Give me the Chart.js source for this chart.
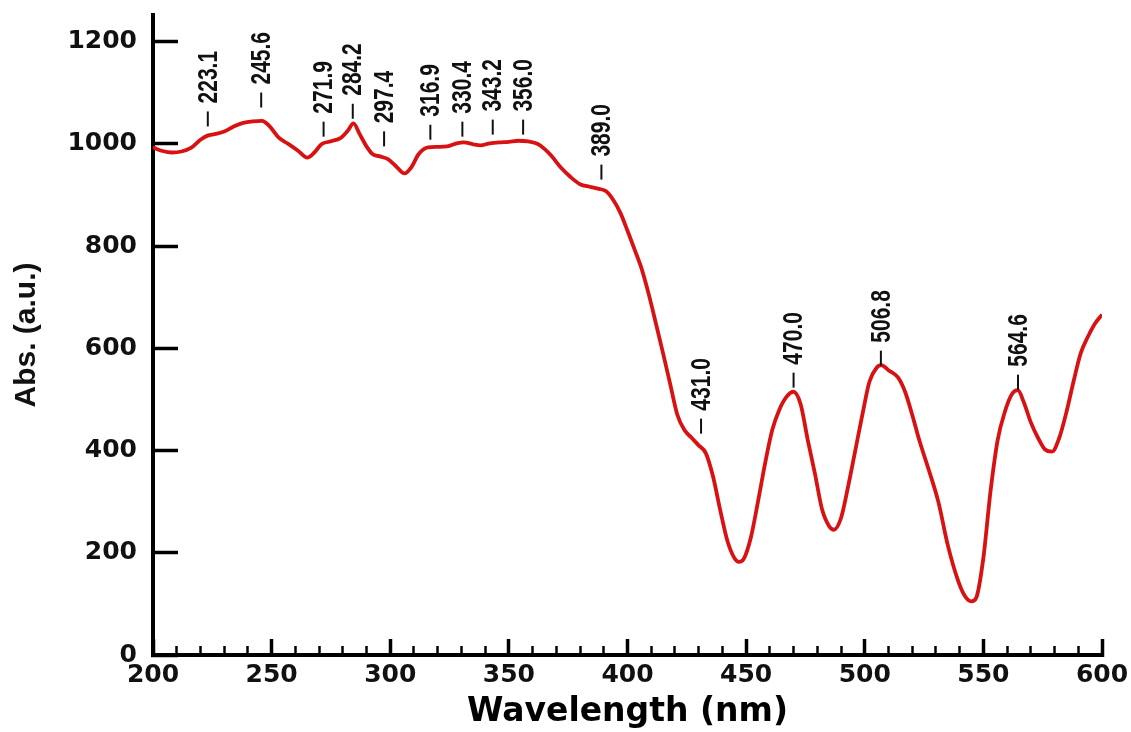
<!DOCTYPE html>
<html><head><meta charset="utf-8">
<script src="https://cdn.jsdelivr.net/npm/chart.js@4.4.1/dist/chart.umd.min.js"></script>
<style>html,body{margin:0;padding:0;background:#fff;}#wrap{width:1131px;height:732px;position:relative;}</style>
</head><body><div id="wrap"><canvas id="c"></canvas></div>
<script>
const wavelengths = [200,204,208,212,216,220,223,226,230,234,238,242,246,249,253,257,261,265,268,271,275,279,282,284.5,287,290,292.5,296,299,302,306,309,312,316,320,324,328,331,335,338,342,346,350,354,358,362,365,368,372,376,380,384,388,391,394,397,400,403,406,409,412,415,418,421,424,427,430,433,436,439,442,445,447,449,452,455,458,461,464,467,470,473,476,479,482,485,487,490,493,496,499,502,505,507,510,514,517,520,523,527,531,535,539,542,545,547,550,553,556,559,562,564.5,567,570,573,576,579,582,585,588,591,594,597,600];
const absorbance = [993,986,983,985,992,1008,1016,1019,1024,1034,1041,1044,1045,1035,1012,1000,987,973,983,999,1005,1011,1025,1040,1020,995,980,975,970,958,942,955,980,993,994,995,1001,1003,999,997,1001,1003,1004,1006,1005,1000,990,976,953,935,921,916,912,907,890,865,830,793,755,705,648,590,530,470,440,425,410,395,350,285,225,190,182,188,230,300,375,440,480,505,515,490,420,355,285,252,245,268,330,400,470,535,562,567,557,543,515,470,420,362,300,215,150,117,105,112,190,320,420,475,510,518,495,455,425,402,398,425,475,535,590,622,648,666];

const peakWavelengths = [223.1,245.6,271.9,284.2,297.4,316.9,330.4,343.2,356.0,389.0,431.0,470.0,506.8,564.6];
const peakLabels = ['223.1','245.6','271.9','284.2','297.4','316.9','330.4','343.2','356.0','389.0','431.0','470.0','506.8','564.6'];
const peakMarkerLevels = [1034,1071,1014,1049,995,1008,1014,1018,1018,930,433,523,566,519];

const xMajorTicks = [200,250,300,350,400,450,500,550,600];
const xTickLabels = ['200','250','300','350','400','450','500','550','600'];
const yMajorTicks = [0,200,400,600,800,1000,1200];
const yTickLabels = ['0','200','400','600','800','1000','1200'];

const points = wavelengths.map((w, i) => ({x: w, y: absorbance[i]}));

const peakPlugin = {
  id: 'peakMarks',
  afterDatasetsDraw(chart) {
    const {ctx, scales: {x, y}} = chart;
    ctx.save();
    peakWavelengths.forEach((wl, i) => {
      const px = x.getPixelForValue(wl);
      const py = y.getPixelForValue(peakMarkerLevels[i]);
      ctx.strokeStyle = '#111';
      ctx.lineWidth = 2;
      ctx.beginPath(); ctx.moveTo(px, py); ctx.lineTo(px, py - 15); ctx.stroke();
      ctx.save();
      ctx.translate(px, py - 15 - 8);
      ctx.rotate(-Math.PI / 2);
      ctx.scale(0.75, 1);
      ctx.font = 'bold 28px "Liberation Sans", Arial, sans-serif';
      ctx.fillStyle = '#111';
      ctx.textAlign = 'left';
      ctx.textBaseline = 'middle';
      ctx.fillText(peakLabels[i], 0, 1);
      ctx.restore();
    });
    ctx.restore();
  }
};

new Chart(document.getElementById('c'), {
  type: 'line',
  data: { datasets: [{
    data: points, xAxisID: 'x', yAxisID: 'y',
    borderColor: '#d81212', borderWidth: 3.8, pointRadius: 0,
    cubicInterpolationMode: 'monotone', fill: false
  }]},
  options: {
    responsive: true, maintainAspectRatio: false, devicePixelRatio: 1, animation: false,
    layout: { padding: { top: 15, right: 29, left: 0, bottom: 0 } },
    plugins: { legend: { display: false }, tooltip: { enabled: false } },
    scales: {
      x: {
        type: 'linear', position: 'bottom', min: 200, max: 600, weight: 0,
        afterBuildTicks: s => { s.ticks = xMajorTicks.map(v => ({value: v})); },
        ticks: { callback: (v, i) => xTickLabels[i], font: {family: 'DejaVu Sans', weight: 'bold', size: 25}, color: '#111', padding: 21, maxRotation: 0, autoSkip: false },
        grid: { drawOnChartArea: false, drawTicks: true, tickLength: -16, tickWidth: 3.5, tickColor: '#000' },
        border: { display: true, color: '#000', width: 4 },
        title: { display: true, text: 'Wavelength (nm)', font: {family: 'DejaVu Sans', weight: 'bold', size: 33}, color: '#000', padding: {top: 0, bottom: 0} },
        afterFit: s => { s.height = 77; s.paddingLeft = 0; s.paddingRight = 0; }
      },
      x2: {
        type: 'linear', position: 'bottom', min: 200, max: 600, weight: -1,
        ticks: { display: false, stepSize: 10 },
        grid: { drawOnChartArea: false, drawTicks: true, tickLength: -9, tickWidth: 2.5, tickColor: '#000' },
        border: { display: false },
        afterFit: s => { s.height = 0; s.paddingLeft = 0; s.paddingRight = 0; }
      },
      y: {
        type: 'linear', position: 'left', min: 0, max: 1252, weight: 0,
        afterBuildTicks: s => { s.ticks = yMajorTicks.map(v => ({value: v})); },
        ticks: { callback: (v, i) => yTickLabels[i], font: {family: 'DejaVu Sans', weight: 'bold', size: 25}, color: '#111', padding: 41, autoSkip: false },
        grid: { drawOnChartArea: false, drawTicks: true, tickLength: -25, tickWidth: 3.5, tickColor: '#000' },
        border: { display: true, color: '#000', width: 4 },
        title: { display: true, text: 'Abs. (a.u.)', font: {family: 'Liberation Sans', weight: 'bold', size: 30}, color: '#111', padding: {top: 9, bottom: 0} },
        afterFit: s => { s.width = 153; s.paddingTop = 0; s.paddingBottom = 0; }
      },
      y2: {
        type: 'linear', position: 'left', min: 0, max: 1252, weight: -1,
        afterBuildTicks: s => { s.ticks = s.ticks.filter(t => t.value <= 1200 && t.value % 50 === 0); },
        ticks: { display: false, stepSize: 50 },
        grid: { drawOnChartArea: false, drawTicks: true, tickLength: -14, tickWidth: 2.5, tickColor: '#000' },
        border: { display: false },
        afterFit: s => { s.width = 0; s.paddingTop = 0; s.paddingBottom = 0; }
      }
    }
  },
  plugins: [peakPlugin]
});
</script>
</body></html>
